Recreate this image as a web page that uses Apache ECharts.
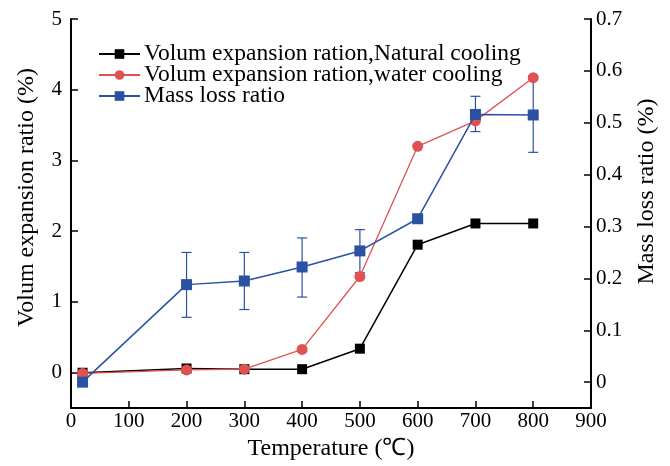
<!DOCTYPE html>
<html>
<head>
<meta charset="utf-8">
<script src="https://cdn.jsdelivr.net/npm/echarts@6/dist/echarts.min.js"></script>
<style>
  html, body { margin: 0; padding: 0; background: #fff; }
  #chart { width: 670px; height: 466px; }
</style>
</head>
<body>
<div id="chart"></div>
<script>
// Temperatures (℃)
const temperatures = [20, 200, 300, 400, 500, 600, 700, 800];
// Volume expansion ratio (%), natural cooling
const naturalCooling = [0.0, 0.06, 0.05, 0.05, 0.34, 1.81, 2.11, 2.11];
// Volume expansion ratio (%), water cooling
const waterCooling = [-0.01, 0.04, 0.05, 0.33, 1.36, 3.2, 3.56, 4.17];
// Mass loss ratio (%) with error bar bounds
const massLoss = [0.0, 0.188, 0.195, 0.222, 0.253, 0.315, 0.516, 0.515];
const massLossLow = [null, 0.125, 0.14, 0.164, 0.211, null, 0.483, 0.443];
const massLossHigh = [null, 0.25, 0.25, 0.278, 0.294, null, 0.551, 0.59];

const leftTicks = [0, 1, 2, 3, 4, 5];
const rightTicks = [0, 0.1, 0.2, 0.3, 0.4, 0.5, 0.6, 0.7];

const FONT = '"Liberation Serif", "Times New Roman", serif';
const BLACK = '#000000';
const RED = '#e05252';
const BLUE = '#2b51a3';

const pairs = (ys) => temperatures.map((t, i) => [t, ys[i]]);
const errData = temperatures
  .map((t, i) => [t, massLossLow[i], massLossHigh[i]])
  .filter(d => d[1] != null);

const axisLine = { show: true, onZero: false, lineStyle: { color: '#000', width: 2 } };
const axisTick = { show: true, inside: true, length: 7, lineStyle: { color: '#000', width: 1.5 } };
const axisLabelBase = { color: '#000', fontFamily: FONT, fontSize: 21 };
const nameStyle = { color: '#000', fontFamily: FONT, fontSize: 24 };

const chart = echarts.init(document.getElementById('chart'), null, { renderer: 'canvas' });
chart.setOption({
  animation: false,
  backgroundColor: '#fff',
  grid: { left: 71, right: 79, top: 19, bottom: 50, containLabel: false },
  legend: {
    orient: 'vertical',
    left: 93,
    top: 37,
    itemWidth: 41,
    itemHeight: 12,
    itemGap: -3,
    textStyle: { color: '#000', fontFamily: FONT, fontSize: 23.5, lineHeight: 21, padding: [0, 0, 0, -1] },
    data: [
      'Volum expansion ration,Natural cooling',
      'Volum expansion ration,water cooling',
      'Mass loss ratio'
    ]
  },
  xAxis: {
    type: 'value',
    min: 0, max: 900, interval: 100,
    name: 'Temperature (℃)',
    nameLocation: 'middle',
    nameGap: 25,
    nameTextStyle: nameStyle,
    axisLine, axisTick,
    axisLabel: { ...axisLabelBase, margin: 3 },
    splitLine: { show: false }
  },
  yAxis: [
    {
      type: 'value',
      position: 'left',
      min: -0.5, max: 5,
      name: 'Volum expansion ratio (%)',
      nameLocation: 'middle',
      nameGap: 32,
      nameTextStyle: { ...nameStyle, padding: [0, 0, 0, 32] },
      axisLine,
      axisTick: { ...axisTick, customValues: leftTicks },
      axisLabel: { ...axisLabelBase, margin: 9, customValues: leftTicks },
      splitLine: { show: false }
    },
    {
      type: 'value',
      position: 'right',
      min: -0.05, max: 0.7,
      name: 'Mass loss ratio (%)',
      nameLocation: 'middle',
      nameGap: 44,
      nameTextStyle: { ...nameStyle, padding: [0, 0, 0, 44] },
      axisLine,
      axisTick: { ...axisTick, customValues: rightTicks },
      axisLabel: {
        ...axisLabelBase, margin: 5, customValues: rightTicks,
        formatter: v => String(+v.toFixed(2))
      },
      splitLine: { show: false }
    }
  ],
  series: [
    {
      name: 'Volum expansion ration,Natural cooling',
      type: 'line',
      yAxisIndex: 0,
      data: pairs(naturalCooling),
      symbol: 'rect',
      symbolSize: 10,
      itemStyle: { color: BLACK },
      lineStyle: { color: BLACK, width: 1.5 },
      z: 3
    },
    {
      name: 'Volum expansion ration,water cooling',
      type: 'line',
      yAxisIndex: 0,
      data: pairs(waterCooling),
      symbol: 'circle',
      symbolSize: 11,
      itemStyle: { color: RED },
      lineStyle: { color: RED, width: 1.3 },
      z: 4
    },
    {
      name: 'Mass loss ratio',
      type: 'line',
      yAxisIndex: 1,
      data: pairs(massLoss),
      symbol: 'rect',
      symbolSize: 11,
      itemStyle: { color: BLUE },
      lineStyle: { color: BLUE, width: 1.5 },
      z: 5
    },
    {
      name: 'Mass loss error',
      type: 'custom',
      yAxisIndex: 1,
      data: errData,
      z: 2,
      silent: true,
      renderItem: (params, api) => {
        const x = api.value(0);
        const lo = api.coord([x, api.value(1)]);
        const hi = api.coord([x, api.value(2)]);
        const w = 5;
        const style = { stroke: BLUE, lineWidth: 1.2 };
        return {
          type: 'group',
          children: [
            { type: 'line', shape: { x1: lo[0], y1: lo[1], x2: hi[0], y2: hi[1] }, style },
            { type: 'line', shape: { x1: hi[0] - w, y1: hi[1], x2: hi[0] + w, y2: hi[1] }, style },
            { type: 'line', shape: { x1: lo[0] - w, y1: lo[1], x2: lo[0] + w, y2: lo[1] }, style }
          ]
        };
      }
    }
  ]
});
</script>
</body>
</html>
